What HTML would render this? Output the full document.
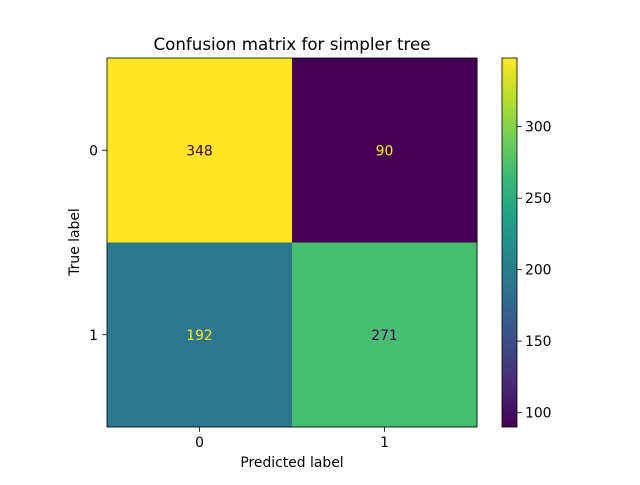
<!DOCTYPE html>
<html><head><meta charset="utf-8"><style>
body{margin:0;background:#fff;}
svg text{font-family:"DejaVu Sans","Liberation Sans",sans-serif;}
</style></head><body>
<svg id="chart" width="640" height="480">
<text x="292" y="50" font-size="16.7" text-anchor="middle">Confusion matrix for simpler tree</text>
<g id="cells"></g>
<g id="axes"></g>
<g id="cbar"></g>
<text x="292" y="467" font-size="13.9" text-anchor="middle">Predicted label</text>
<text x="79" y="242" font-size="13.9" text-anchor="middle" transform="rotate(-90 79 242)">True label</text>
</svg>
<script>
const classes=["0","1"];
const matrix=[[348,90],[192,271]];
const cbarTicks=[100,150,200,250,300];
const NS="http://www.w3.org/2000/svg";
const L=107,R=477,T=58,B=427;
const vals=matrix.flat();const vmin=Math.min(...vals),vmax=Math.max(...vals);
const stops=[[68,1,84],[72,40,120],[62,74,137],[49,104,142],[38,130,142],[31,158,137],[53,183,121],[110,206,88],[181,222,43],[253,231,37]];
function viridis(t){t=Math.max(0,Math.min(1,t));const p=t*(stops.length-1),i=Math.min(Math.floor(p),stops.length-2),f=p-i;
const c=stops[i].map((v,k)=>Math.round(v+(stops[i+1][k]-v)*f));return `rgb(${c})`;}
function mk(tag,attrs,parent){const e=document.createElementNS(NS,tag);for(const k in attrs)e.setAttribute(k,attrs[k]);parent.appendChild(e);return e;}
const n=classes.length,cw=(R-L)/n,ch=(B-T)/n;
const cells=document.getElementById('cells'),axes=document.getElementById('axes'),cb=document.getElementById('cbar');
const thr=(vmin+vmax)/2;
for(let i=0;i<n;i++)for(let j=0;j<n;j++){
 const v=matrix[i][j];
 const r=mk('rect',{x:L+j*cw,y:T+i*ch,width:cw+0.5,height:ch+0.5,fill:viridis((v-vmin)/(vmax-vmin))},cells);
 
 
 const t=mk('text',{x:L+(j+0.5)*cw,y:T+(i+0.5)*ch+5,'font-size':13.9,'text-anchor':'middle',fill:v<thr?viridis(1):viridis(0)},cells);
 t.textContent=v;
 
 
}
const fr=mk('rect',{x:L,y:T,width:R-L,height:B-T,fill:'none',stroke:'#000','stroke-width':0.8},axes);


classes.forEach((c,k)=>{
 const x=L+(k+0.5)*cw;
 mk('line',{x1:x,x2:x,y1:B,y2:B+4.9,stroke:'#000','stroke-width':0.8},axes);
 const t=mk('text',{x:x,y:B+20,'font-size':13.9,'text-anchor':'middle'},axes);t.textContent=c;
 
 
 const y=T+(k+0.5)*ch;
 mk('line',{x1:L-4.9,x2:L,y1:y,y2:y,stroke:'#000','stroke-width':0.8},axes);
 const t2=mk('text',{x:L-9,y:y+5,'font-size':13.9,'text-anchor':'end'},axes);t2.textContent=c;
 
 
});
const CX=502,CW=15;
const cy=v=>B-(v-vmin)/(vmax-vmin)*(B-T);
const g=mk('linearGradient',{id:'vg',x1:0,y1:1,x2:0,y2:0},mk('defs',{},cb));
stops.forEach((s,k)=>mk('stop',{offset:k/(stops.length-1),'stop-color':`rgb(${s})`},g));
const cr=mk('rect',{x:CX,y:T,width:CW,height:B-T,fill:'url(#vg)',stroke:'#000','stroke-width':0.8},cb);


cbarTicks.forEach(v=>{const y=cy(v);
 mk('line',{x1:CX+CW,x2:CX+CW+4.9,y1:y,y2:y,stroke:'#000','stroke-width':0.8},cb);
 const t=mk('text',{x:CX+CW+8,y:y+5,'font-size':13.9},cb);t.textContent=v;
 
 
});
</script>
</body></html>
